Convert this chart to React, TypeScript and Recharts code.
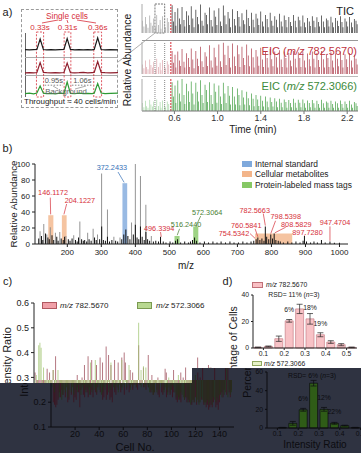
import React from "react";
import {
  ComposedChart,
  LineChart,
  Line,
  Bar,
  XAxis,
  YAxis,
  ReferenceArea,
  ReferenceLine,
  ReferenceDot,
  ErrorBar,
  LabelList,
  Cell,
} from "recharts";

const FONT = '"Liberation Sans", Arial, Helvetica, sans-serif';
const RED = "#d62f3a";
const DARK_BG = "#2f3341";

// a) inset, three single cells (time in s)
const insetTime = [0, 0.2, 0.4, 0.55, 0.7, 0.85, 1.0, 1.2, 1.4, 1.6, 1.8, 1.95, 2.1, 2.3, 2.5, 2.7, 2.9, 3.1, 3.2, 3.36, 3.52, 3.7, 3.95, 4.3];
const insetTic = [0.03, 0.01, 0.04, 0.05, 1.0, 0.05, 0.02, 0.03, 0.01, 0.04, 0.05, 1.05, 0.06, 0.02, 0.03, 0.01, 0.04, 0.02, 0.06, 1.1, 0.05, 0.02, 0.03, 0.01];
const insetEic782 = [0.02, 0.04, 0.01, 0.05, 0.95, 0.06, 0.03, 0.01, 0.04, 0.02, 0.05, 0.9, 0.04, 0.02, 0.03, 0.05, 0.02, 0.04, 0.05, 1.05, 0.06, 0.03, 0.01, 0.04];
const insetEic572 = [0.05, 0.1, 0.02, 0.12, 1.0, 0.1, 0.04, 0.08, 0.02, 0.1, 0.06, 1.5, 0.08, 0.03, 0.1, 0.04, 0.09, 0.05, 0.1, 1.3, 0.12, 0.05, 0.08, 0.1];
const cellWindowStart = [0.53, 1.81, 3.18];
const cellWindowEnd = [0.86, 2.12, 3.54];

// a) whole run (time in min), one spike per cell
const spikeTimes = [
  0.305, 0.318, 0.334, 0.341, 0.356, 0.372, 0.383, 0.398, 0.409, 0.426,
  0.437, 0.452, 0.468, 0.476, 0.491, 0.507, 0.519, 0.534, 0.548, 0.579,
  0.591, 0.606, 0.614, 0.632, 0.648, 0.655, 0.671, 0.689, 0.697, 0.714,
  0.73, 0.738, 0.756, 0.771, 0.782, 0.799, 0.815, 0.823, 0.842, 0.856,
  0.866, 0.884, 0.899, 0.907, 0.925, 0.94, 0.951, 0.968, 0.983, 0.994,
  1.012, 1.026, 1.035, 1.053, 1.068, 1.079, 1.097, 1.112, 1.121, 1.139,
  1.155, 1.166, 1.183, 1.198, 1.207, 1.226, 1.241, 1.252, 1.27, 1.284,
  1.295, 1.313, 1.329, 1.338, 1.356, 1.372, 1.382, 1.4, 1.415, 1.426,
  1.443, 1.459, 1.468, 1.487, 1.502, 1.513, 1.53, 1.546, 1.555, 1.574,
  1.589, 1.598, 1.617, 1.633, 1.642, 1.66, 1.676, 1.686, 1.703, 1.719,
  1.728, 1.747, 1.762, 1.772, 1.79, 1.806, 1.815, 1.834, 1.849, 1.858,
  1.877, 1.892, 1.902, 1.92, 1.936, 1.945, 1.963, 1.979, 1.989, 2.007,
  2.022, 2.031, 2.05, 2.066, 2.075, 2.093, 2.109, 2.118, 2.137, 2.152,
  2.161, 2.18, 2.196, 2.205, 2.223, 2.239, 2.248, 2.266, 2.282, 2.292,
];
const ticSpikes = [
  0.42, 0.22, 0.55, 0.3, 0.18, 0.6, 0.35, 0.25, 0.5, 0.2,
  0.62, 0.28, 0.45, 0.15, 0.58, 0.32, 0.2, 0.52, 0.38, 0.96,
  0.4, 0.72, 0.25, 0.85, 0.5, 0.3, 0.9, 0.45, 0.22, 0.75,
  0.6, 0.28, 0.92, 0.5, 0.2, 0.8, 0.55, 0.3, 0.98, 0.42,
  0.25, 0.7, 0.62, 0.3, 0.88, 0.45, 0.22, 0.78, 0.56, 0.28,
  0.85, 0.4, 0.24, 0.95, 0.6, 0.3, 0.72, 0.5, 0.2, 0.82,
  0.48, 0.26, 0.76, 0.55, 0.22, 0.68, 0.44, 0.3, 0.8, 0.52,
  0.24, 0.7, 0.46, 0.2, 0.66, 0.5, 0.28, 0.74, 0.4, 0.22,
  0.62, 0.48, 0.2, 0.7, 0.42, 0.25, 0.58, 0.46, 0.2, 0.66,
  0.4, 0.22, 0.6, 0.45, 0.2, 0.55, 0.38, 0.24, 0.62, 0.42,
  0.2, 0.56, 0.44, 0.22, 0.6, 0.36, 0.2, 0.52, 0.4, 0.24,
  0.58, 0.42, 0.2, 0.54, 0.38, 0.22, 0.6, 0.4, 0.2, 0.5,
  0.44, 0.22, 0.56, 0.36, 0.2, 0.52, 0.42, 0.24, 0.58, 0.38,
  0.2, 0.5, 0.4, 0.22, 0.55, 0.36, 0.2, 0.48, 0.42, 0.3,
];
const eic782Spikes = [
  0.3, 0.18, 0.42, 0.22, 0.15, 0.45, 0.28, 0.2, 0.38, 0.16,
  0.48, 0.22, 0.35, 0.12, 0.44, 0.25, 0.18, 0.4, 0.3, 0.72,
  0.35, 0.6, 0.2, 0.7, 0.42, 0.25, 0.78, 0.38, 0.2, 0.65,
  0.5, 0.22, 0.8, 0.45, 0.18, 0.72, 0.48, 0.25, 0.85, 0.4,
  0.22, 0.68, 0.55, 0.25, 0.9, 0.42, 0.2, 0.82, 0.52, 0.26,
  0.92, 0.4, 0.22, 0.98, 0.6, 0.28, 0.88, 0.5, 0.2, 0.95,
  0.55, 0.25, 0.9, 0.62, 0.22, 0.85, 0.5, 0.28, 0.92, 0.58,
  0.24, 0.8, 0.52, 0.2, 0.75, 0.55, 0.26, 0.82, 0.45, 0.22,
  0.72, 0.5, 0.2, 0.78, 0.46, 0.24, 0.7, 0.52, 0.2, 0.74,
  0.45, 0.22, 0.7, 0.5, 0.2, 0.66, 0.42, 0.24, 0.72, 0.48,
  0.2, 0.68, 0.5, 0.22, 0.7, 0.42, 0.2, 0.64, 0.46, 0.24,
  0.7, 0.48, 0.2, 0.66, 0.44, 0.22, 0.72, 0.46, 0.2, 0.62,
  0.5, 0.22, 0.68, 0.42, 0.2, 0.64, 0.48, 0.24, 0.7, 0.44,
  0.2, 0.62, 0.46, 0.22, 0.66, 0.42, 0.2, 0.6, 0.48, 0.3,
];
const eic572Spikes = [
  0.25, 0.12, 0.32, 0.15, 0.1, 0.35, 0.2, 0.14, 0.3, 0.12,
  0.36, 0.16, 0.28, 0.1, 0.33, 0.18, 0.12, 0.3, 0.22, 0.9,
  0.45, 0.8, 0.25, 0.95, 0.55, 0.3, 1.0, 0.5, 0.22, 0.85,
  0.62, 0.28, 0.92, 0.55, 0.2, 0.88, 0.6, 0.3, 0.96, 0.5,
  0.25, 0.82, 0.66, 0.28, 0.9, 0.5, 0.22, 0.86, 0.6, 0.26,
  0.8, 0.45, 0.22, 0.88, 0.55, 0.25, 0.78, 0.48, 0.2, 0.75,
  0.45, 0.2, 0.7, 0.5, 0.18, 0.65, 0.42, 0.2, 0.6, 0.4,
  0.18, 0.55, 0.38, 0.15, 0.5, 0.36, 0.16, 0.48, 0.32, 0.14,
  0.45, 0.3, 0.12, 0.42, 0.28, 0.14, 0.4, 0.3, 0.12, 0.38,
  0.26, 0.12, 0.36, 0.28, 0.1, 0.34, 0.25, 0.12, 0.38, 0.26,
  0.1, 0.35, 0.26, 0.12, 0.36, 0.24, 0.1, 0.33, 0.25, 0.12,
  0.34, 0.24, 0.1, 0.32, 0.22, 0.1, 0.35, 0.24, 0.1, 0.3,
  0.26, 0.1, 0.32, 0.22, 0.1, 0.3, 0.24, 0.1, 0.33, 0.22,
  0.1, 0.3, 0.22, 0.1, 0.32, 0.2, 0.1, 0.28, 0.24, 0.16,
];
const zoomWindow = [0.42, 0.51];
const markerTime = 0.567;
const timeTicks = [0.6, 1.0, 1.4, 1.8, 2.2];

// b) spectrum [m/z, relative abundance]
const grayPeaks = [
  [120, 16], [131, 25], [140, 12], [150, 21], [165, 14], [178, 15], [196, 10], [219, 11],
  [237, 28], [260, 14], [276, 19], [289, 12], [301, 88], [318, 43], [337, 9], [355, 8],
  [389, 27], [400, 100], [415, 85], [431, 49], [447, 10],
];
const blackPeaks = [
  [116, 7], [124, 10], [128, 5], [136, 13], [143, 8], [147, 6], [155, 11], [160, 5], [169, 9],
  [173, 4], [182, 7], [188, 5], [192, 9], [203, 6], [208, 4], [214, 7], [224, 5], [229, 3],
  [233, 8], [242, 6], [247, 4], [251, 5], [257, 3], [264, 6], [270, 4], [280, 8], [285, 5],
  [295, 6], [301, 22], [306, 5], [312, 4], [318, 9], [324, 3], [331, 5], [342, 4], [348, 3],
  [360, 6], [366, 12], [372, 18], [378, 10], [384, 6], [394, 12], [400, 24], [405, 8],
  [410, 6], [415, 22], [420, 9], [426, 5], [431, 15], [436, 6], [442, 4], [453, 3], [460, 4],
  [468, 3], [474, 9], [482, 3], [490, 2], [502, 3], [510, 2], [518, 4], [524, 6], [533, 2],
  [545, 3], [556, 2], [562, 3], [568, 5], [574, 8], [580, 4], [590, 2], [603, 3], [615, 2],
  [628, 3], [640, 2], [652, 3], [665, 2], [678, 3], [690, 2], [703, 2], [716, 3], [728, 2],
  [740, 3], [748, 4], [755, 6], [760, 8], [766, 5], [772, 7], [778, 4], [782, 22], [786, 9],
  [792, 6], [798, 12], [803, 7], [808, 13], [813, 5], [820, 4], [826, 3], [835, 2], [848, 3],
  [860, 2], [872, 3], [884, 2], [893, 4], [897, 10], [903, 3], [915, 2], [925, 3], [935, 2],
  [947, 5], [958, 2], [972, 3], [985, 1.5], [1000, 1.5],
];
// [from, to, height]
const internalStdBands = [[362, 376, 76]];
const metaboliteBands = [[144, 159, 36], [184, 198, 36], [752, 861, 13]];
const massTagBands = [[515, 530, 10], [570, 585, 22]];
const mzTicks = [200, 300, 400, 500, 600, 700, 800, 900, 1000];
const peakNotes = [
  { text: "372.2433", kind: "std", at: [331, 96], line: [[349, 90], [367, 77]] },
  { text: "146.1172", kind: "met", at: [158, 64], line: [[150, 58], [151, 37]] },
  { text: "204.1227", kind: "met", at: [237, 54], line: [[198, 50], [190, 37]] },
  { text: "496.3394", kind: "met", at: [470, 20], line: [[474, 15], [476, 9]] },
  { text: "516.2440", kind: "tag", at: [549, 24], line: [[530, 19], [523, 11]] },
  { text: "572.3064", kind: "tag", at: [611, 40], line: [[592, 35], [579, 23]] },
  { text: "782.5663", kind: "met", at: [751, 42.5], line: [[776, 38], [782, 23]] },
  { text: "798.5398", kind: "met", at: [842, 34], line: [[812, 29], [798, 13]] },
  { text: "760.5841", kind: "met", at: [726, 23], line: [[752, 19], [760, 9]] },
  { text: "808.5829", kind: "met", at: [873, 24.5], line: [[842, 21], [810, 14]] },
  { text: "754.5342", kind: "met", at: [690, 13.5], line: [[737, 13], [752, 7]] },
  { text: "897.7280", kind: "met", at: [906, 15], line: [[899, 12], [897, 10.5]] },
  { text: "947.4704", kind: "met", at: [987, 27.5], line: [[972, 22], [972, 4]] },
];

// c) per-cell intensity ratios, cells 1..150
const ratio782 = [
  0.32, 0.2, 0.19, 0.18, 0.19, 0.21, 0.24, 0.22, 0.25, 0.23,
  0.335, 0.22, 0.32, 0.2, 0.21, 0.33, 0.23, 0.385, 0.2, 0.22,
  0.21, 0.26, 0.24, 0.18, 0.25, 0.27, 0.23, 0.22, 0.25, 0.24,
  0.22, 0.26, 0.23, 0.25, 0.22, 0.31, 0.24, 0.23, 0.26, 0.3,
  0.24, 0.35, 0.21, 0.22, 0.385, 0.21, 0.23, 0.37, 0.21, 0.22,
  0.2, 0.35, 0.24, 0.23, 0.38, 0.25, 0.36, 0.24, 0.26, 0.425,
  0.23, 0.39, 0.25, 0.35, 0.24, 0.26, 0.37, 0.25, 0.27, 0.36,
  0.26, 0.25, 0.38, 0.27, 0.4, 0.36, 0.26, 0.27, 0.25, 0.33,
  0.26, 0.32, 0.24, 0.25, 0.23, 0.24, 0.43, 0.25, 0.23, 0.22,
  0.34, 0.24, 0.23, 0.25, 0.39, 0.22, 0.24, 0.31, 0.23, 0.25,
  0.22, 0.24, 0.3, 0.21, 0.2, 0.22, 0.21, 0.2, 0.335, 0.32,
  0.21, 0.22, 0.2, 0.21, 0.2, 0.33, 0.19, 0.21, 0.2, 0.22,
  0.19, 0.32, 0.2, 0.3, 0.21, 0.34, 0.19, 0.2, 0.18, 0.19,
  0.17, 0.18, 0.19, 0.18, 0.2, 0.38, 0.18, 0.19, 0.17, 0.2,
  0.23, 0.24, 0.22, 0.25, 0.35, 0.23, 0.34, 0.24, 0.22, 0.25,
];
const ratio572 = [
  0.26, 0.31, 0.24, 0.43, 0.44, 0.42, 0.22, 0.34, 0.21, 0.23,
  0.25, 0.24, 0.26, 0.22, 0.25, 0.33, 0.24, 0.26, 0.23, 0.33,
  0.25, 0.24, 0.27, 0.25, 0.23, 0.26, 0.25, 0.27, 0.24, 0.26,
  0.25, 0.23, 0.26, 0.24, 0.27, 0.25, 0.26, 0.24, 0.27, 0.25,
  0.26, 0.23, 0.24, 0.26, 0.25, 0.27, 0.36, 0.24, 0.26, 0.25,
  0.37, 0.26, 0.25, 0.27, 0.26, 0.24, 0.27, 0.26, 0.25, 0.27,
  0.26, 0.28, 0.26, 0.36, 0.27, 0.25, 0.27, 0.26, 0.28, 0.27,
  0.26, 0.28, 0.37, 0.27, 0.26, 0.28, 0.27, 0.26, 0.35, 0.27,
  0.26, 0.24, 0.25, 0.24, 0.23, 0.24, 0.52, 0.24, 0.33, 0.25,
  0.345, 0.26, 0.34, 0.24, 0.26, 0.25, 0.23, 0.26, 0.24, 0.25,
  0.27, 0.26, 0.24, 0.22, 0.23, 0.21, 0.22, 0.24, 0.23, 0.22,
  0.21, 0.3, 0.22, 0.2, 0.21, 0.19, 0.2, 0.21, 0.2, 0.31,
  0.2, 0.21, 0.19, 0.2, 0.22, 0.21, 0.2, 0.19, 0.2, 0.21,
  0.19, 0.2, 0.21, 0.19, 0.22, 0.21, 0.2, 0.22, 0.21, 0.23,
  0.24, 0.22, 0.25, 0.23, 0.24, 0.34, 0.22, 0.25, 0.23, 0.24,
];
const ratioBase = 0.29;
const cellTicks = [20, 40, 60, 80, 100, 120, 140];
const ratioTicksUpper = [0.3, 0.4, 0.5, 0.6];
const ratioTicksLower = [0.1, 0.2];

// d) histograms of the ratio
const histBins = [0.075, 0.125, 0.175, 0.225, 0.275, 0.325, 0.375, 0.425, 0.475, 0.525];
const pct782 = [0.5, 1.2, 7, 20.5, 29.5, 22, 10, 4.5, 2.5, 0.5];
const err782 = [0.2, 0.3, 2, 1, 3.5, 4, 1.5, 1, 0.8, 0.2];
const rsd782 = ["", "", "", "6%", "", "18%", "19%", "", "", ""];
const pct572 = [0, 0.5, 5, 19.5, 48, 20, 5, 2.5, 0.5, 0];
const err572 = [0, 0.2, 2, 1.5, 3, 2, 1, 0.5, 0.2, 0];
const rsd572 = ["", "", "", "6%", "", "12%", "22%", "", "", ""];
const binTicks = [0.1, 0.2, 0.3, 0.4, 0.5];

const insetTable = insetTime.map((t, i) => ({ t, tic: insetTic[i], e782: insetEic782[i], e572: insetEic572[i] }));
const runTable = spikeTimes.map((t, i) => ({ t, tic: ticSpikes[i], e782: eic782Spikes[i], e572: eic572Spikes[i] }));
const msTable = (() => {
  const m = new Map<number, { mz: number; gray?: number; black?: number }>();
  grayPeaks.forEach(([mz, v]) => m.set(mz, { ...(m.get(mz) ?? { mz }), gray: v }));
  blackPeaks.forEach(([mz, v]) => m.set(mz, { ...(m.get(mz) ?? { mz }), black: v }));
  return [...m.values()].sort((a, b) => a.mz - b.mz);
})();
const cellTable = ratio782.map((r, i) => ({ cell: i + 1, r782: r, r572: ratio572[i] }));
const hist782 = histBins.map((bin, i) => ({ bin, pct: pct782[i], err: err782[i], rsd: rsd782[i] }));
const hist572 = histBins.map((bin, i) => ({ bin, pct: pct572[i], err: err572[i], rsd: rsd572[i] }));

const span = (v: number) => (v >= ratioBase ? [ratioBase, v] : [v, ratioBase]);

function Txt({ x, y, size, color = "#222", rot = 0, align = "c", children }: any) {
  const tx = align === "c" ? "-50%" : align === "r" ? "-100%" : "0%";
  return (
    <div
      style={{
        position: "absolute",
        left: x,
        top: y,
        fontSize: size,
        lineHeight: 1,
        color,
        whiteSpace: "nowrap",
        transform: `translate(${tx}, -50%) rotate(${rot}deg)`,
      }}
    >
      {children}
    </div>
  );
}

function Box({ x, y, w, h, fill, stroke }: any) {
  return (
    <div
      style={{
        position: "absolute",
        left: x,
        top: y,
        width: w,
        height: h,
        background: fill,
        border: `1px solid ${stroke}`,
        boxSizing: "border-box",
      }}
    />
  );
}

function Trace({ top, height, mt, mb, dataKey, color, faint, showAxis, zoomBox }: any) {
  return (
    <div style={{ position: "absolute", left: 120, top }}>
      <ComposedChart width={241} height={height} data={runTable} margin={{ top: mt, right: 3, bottom: mb, left: 8 }}>
        <XAxis
          dataKey="t"
          type="number"
          domain={[0.3, 2.3]}
          ticks={timeTicks}
          tickFormatter={(v: number) => v.toFixed(1)}
          hide={!showAxis}
          height={14}
          tick={{ fontSize: 9, fill: "#333" }}
          tickSize={3}
          tickMargin={1}
          axisLine={{ stroke: "#777" }}
          tickLine={{ stroke: "#777" }}
        />
        <YAxis
          domain={[0, 1]}
          ticks={[0, 0.2, 0.4, 0.6, 0.8, 1]}
          width={14}
          tick={false}
          tickSize={2}
          axisLine={{ stroke: "#aaa" }}
          tickLine={{ stroke: "#aaa" }}
        />
        {zoomBox ? (
          <ReferenceArea x1={zoomWindow[0]} x2={zoomWindow[1]} fill="none" stroke="#777" strokeDasharray="2 1" />
        ) : null}
        {zoomBox
          ? null
          : zoomWindow.map((x) => <ReferenceLine key={x} x={x} stroke="#888" strokeDasharray="1 1" />)}
        <ReferenceLine x={markerTime} stroke={RED} strokeDasharray="2 1" />
        <Bar dataKey={dataKey} barSize={1} isAnimationActive={false}>
          {runTable.map((d, i) => (
            <Cell key={i} fill={d.t < markerTime ? faint : color} />
          ))}
        </Bar>
      </ComposedChart>
    </div>
  );
}

function PanelA() {
  return (
    <>
      <Txt x={7.5} y={12} size={11}>a)</Txt>
      <div style={{ position: "absolute", left: 21, top: 9, width: 97, height: 99, border: "1px dashed #9a9a9a", boxSizing: "border-box" }} />
      <div style={{ position: "absolute", left: 25, top: 33, width: 1, height: 64, background: "#666" }} />
      <div style={{ position: "absolute", left: 25, top: 57, width: 93, height: 1, background: "#aaa" }} />
      <div style={{ position: "absolute", left: 25, top: 75, width: 93, height: 1, background: "#aaa" }} />
      <div style={{ position: "absolute", left: 25, top: 20 }}>
        <LineChart width={93} height={80} data={insetTable} margin={{ top: 12, right: 0, bottom: 3, left: 0 }}>
          <XAxis dataKey="t" type="number" domain={[0, 4.3]} hide />
          <YAxis yAxisId="k" domain={[-4.27, 1.64]} hide />
          <YAxis yAxisId="r" domain={[-2.18, 3.73]} hide />
          <YAxis yAxisId="g" domain={[-0.375, 7.75]} hide />
          {cellWindowStart.map((s, i) => (
            <ReferenceArea
              key={"w" + i}
              yAxisId="k"
              x1={s}
              x2={cellWindowEnd[i]}
              fill="none"
              stroke={RED}
              strokeDasharray="2 1.5"
              strokeWidth={0.8}
              label={{ value: `${(cellWindowEnd[i] - s).toFixed(2)}s`, position: "top", fill: RED, fontSize: 8, offset: 2 }}
            />
          ))}
          {cellWindowStart.slice(1).map((s, i) => (
            <ReferenceLine
              key={"g" + i}
              yAxisId="g"
              segment={[{ x: cellWindowEnd[i] + 0.05, y: 1.1 }, { x: s - 0.05, y: 1.1 }]}
              stroke="#888"
              strokeDasharray="1.5 1.5"
              label={{ value: `${(s - cellWindowEnd[i]).toFixed(2)}s`, position: "top", fill: "#555", fontSize: 7.5, offset: 2 }}
            />
          ))}
          <Line yAxisId="k" dataKey="tic" stroke="#1a1a1a" strokeWidth={1.2} dot={false} isAnimationActive={false} />
          <Line yAxisId="r" dataKey="e782" stroke="#8e1f2d" strokeWidth={1.2} dot={false} isAnimationActive={false} />
          <Line yAxisId="g" dataKey="e572" stroke="#2f9a35" strokeWidth={1.2} dot={false} isAnimationActive={false} />
        </LineChart>
      </div>
      <Txt x={67} y={16} size={8.3} color={RED}>Single cells</Txt>
      <Txt x={66} y={92} size={7.8} color="#666">Background</Txt>
      <Txt x={70} y={101.5} size={8}>Throughput ≈ 40 cells/min</Txt>
      <svg width={361} height={140} style={{ position: "absolute", left: 0, top: 0 }}>
        <line x1={118} y1={62} x2={155} y2={33} stroke="#999" strokeWidth={0.8} />
        <line x1={58} y1={20} x2={42} y2={23} stroke={RED} strokeWidth={0.8} />
        <line x1={67} y1={20} x2={68} y2={23} stroke={RED} strokeWidth={0.8} />
        <line x1={77} y1={20} x2={96} y2={23} stroke={RED} strokeWidth={0.8} />
        <line x1={58} y1={89} x2={53} y2={86} stroke="#888" strokeWidth={0.7} />
        <line x1={75} y1={89} x2={86} y2={86} stroke="#888" strokeWidth={0.7} />
      </svg>

      <Txt x={128} y={60} size={10.4} rot={-90}>Relative Abundance</Txt>
      <Trace top={0} height={34} mt={4} mb={1} dataKey="tic" color="#222" faint="#a0a0a0" zoomBox />
      <div style={{ position: "absolute", left: 142, top: 40, width: 216, height: 1, background: "#999" }} />
      <Trace top={40} height={35} mt={2} mb={1} dataKey="e782" color="#a83443" faint="#dba3aa" />
      <div style={{ position: "absolute", left: 142, top: 76, width: 216, height: 1, background: "#bbb" }} />
      <Trace top={76} height={51} mt={3} mb={2} dataKey="e572" color="#3a9a3a" faint="#a6d6a6" showAxis />
      <Txt x={354} y={11} size={11} align="r">TIC</Txt>
      <Txt x={357} y={51} size={11} align="r" color="#c0343f">
        EIC (<i>m/z</i> 782.5670)
      </Txt>
      <Txt x={357} y={86} size={11} align="r" color="#3c8a3a">
        EIC (<i>m/z</i> 572.3066)
      </Txt>
      <Txt x={253} y={129.5} size={10}>Time (min)</Txt>
    </>
  );
}

const noteColor: Record<string, string> = { std: "#3570b8", met: RED, tag: "#4a7f36" };

function PanelB() {
  const bands = [
    ...internalStdBands.map((b) => ({ b, fill: "#7fa9dc" })),
    ...metaboliteBands.map((b) => ({ b, fill: "#f3b58a" })),
    ...massTagBands.map((b) => ({ b, fill: "#86c865" })),
  ];
  return (
    <>
      <Txt x={7.5} y={147.5} size={11}>b)</Txt>
      <Txt x={14} y={204} size={9.8} rot={-90}>Relative Abundance</Txt>
      <div style={{ position: "absolute", left: 0, top: 150 }}>
        <ComposedChart width={361} height={125} data={msTable} margin={{ top: 14, right: 13, bottom: 7, left: 8 }}>
          <XAxis
            xAxisId="a"
            dataKey="mz"
            type="number"
            domain={[105, 1025]}
            ticks={mzTicks}
            height={24}
            tick={{ fontSize: 8, fill: "#222" }}
            tickSize={3}
            axisLine={{ stroke: "#222" }}
            tickLine={{ stroke: "#222" }}
          />
          <XAxis xAxisId="b" dataKey="mz" type="number" domain={[105, 1025]} orientation="top" height={0} hide />
          <YAxis
            domain={[0, 100]}
            ticks={[0, 20, 40, 60, 80, 100]}
            width={27}
            tick={{ fontSize: 8, fill: "#222" }}
            tickSize={3}
            axisLine={{ stroke: "#222" }}
            tickLine={{ stroke: "#222" }}
          />
          {bands.map(({ b, fill }, i) => (
            <ReferenceArea key={"band" + i} xAxisId="a" x1={b[0]} x2={b[1]} y1={0} y2={b[2]} fill={fill} fillOpacity={0.8} stroke="none" />
          ))}
          <Bar xAxisId="a" dataKey="gray" fill="#8a8a8a" barSize={1.3} isAnimationActive={false} />
          <Bar xAxisId="b" dataKey="black" fill="#111" barSize={1} isAnimationActive={false} />
          {peakNotes.map((n, i) => (
            <ReferenceLine
              key={"nl" + i}
              xAxisId="a"
              segment={[{ x: n.line[0][0], y: n.line[0][1] }, { x: n.line[1][0], y: n.line[1][1] }]}
              stroke={noteColor[n.kind]}
              strokeWidth={0.7}
            />
          ))}
          {peakNotes.map((n, i) => (
            <ReferenceDot
              key={"nd" + i}
              xAxisId="a"
              x={n.at[0]}
              y={n.at[1]}
              r={1}
              fill="none"
              stroke="none"
              label={{ value: n.text, position: "center", fill: noteColor[n.kind], fontSize: 7.3 }}
            />
          ))}
        </ComposedChart>
      </div>
      <Txt x={186} y={266} size={10}>m/z</Txt>
      <Box x={242} y={160.5} w={10} h={6} fill="#7fa9dc" stroke="#7fa9dc" />
      <Box x={242} y={171} w={10} h={6} fill="#f3b58a" stroke="#f3b58a" />
      <Box x={242} y={181.5} w={10} h={6} fill="#86c865" stroke="#86c865" />
      <Txt x={255} y={163.5} size={8.4} align="l">Internal standard</Txt>
      <Txt x={255} y={174} size={8.4} align="l">Cellular metabolites</Txt>
      <Txt x={255} y={184.5} size={8.4} align="l">Protein-labeled mass tags</Txt>
    </>
  );
}

// c) drawn twice: the light upper copy and the shifted dark lower copy
function PanelC({ dark, shift }: { dark: boolean; shift: number }) {
  const ink = dark ? "#0c0c10" : "#222";
  const fill782 = dark ? "#3c1420" : "#a8606c";
  const fill572 = dark ? "#23331a" : "#a2c673";
  return (
    <div style={{ position: "absolute", left: shift, top: 0, width: 361, height: 453 }}>
      <div style={{ position: "absolute", left: 0, top: 285 }}>
        <ComposedChart width={240} height={168} data={cellTable} margin={{ top: 18, right: 23, bottom: 2, left: 8 }}>
          <XAxis
            xAxisId="a"
            dataKey="cell"
            type="number"
            domain={[0, 152]}
            ticks={cellTicks}
            height={24}
            tick={dark ? { fontSize: 9, fill: ink } : false}
            tickSize={3}
            tickMargin={1}
            axisLine={{ stroke: ink }}
            tickLine={{ stroke: ink }}
          />
          <XAxis xAxisId="b" dataKey="cell" type="number" domain={[0, 152]} orientation="top" height={0} hide />
          <YAxis
            domain={[0.1, 0.6]}
            ticks={dark ? ratioTicksLower : ratioTicksUpper}
            tickFormatter={(v: number) => v.toFixed(1)}
            width={26}
            tick={{ fontSize: 9, fill: ink }}
            tickSize={3}
            axisLine={{ stroke: ink }}
            tickLine={{ stroke: ink }}
          />
          <Bar xAxisId="a" dataKey={(d: any) => span(d.r782)} fill={fill782} fillOpacity={0.85} barSize={1} isAnimationActive={false} />
          <Bar xAxisId="b" dataKey={(d: any) => span(d.r572)} fill={fill572} fillOpacity={0.75} barSize={1} isAnimationActive={false} />
        </ComposedChart>
      </div>
      <Txt x={7} y={362} size={11} rot={-90} color={ink}>Intensity Ratio</Txt>
      {dark ? <Txt x={118} y={447} size={11} color={ink}>Cell No.</Txt> : null}
    </div>
  );
}

function Hist({ data, top, height, mt, mb, yMax, yTicks, fill, stroke, ink }: any) {
  return (
    <div style={{ position: "absolute", left: 230, top }}>
      <ComposedChart width={131} height={height} data={data} margin={{ top: mt, right: 4, bottom: mb, left: 8 }}>
        <XAxis
          dataKey="bin"
          type="number"
          domain={[0.05, 0.55]}
          ticks={binTicks}
          height={12}
          tick={{ fontSize: 6.8, fill: ink }}
          tickSize={2}
          tickMargin={1}
          axisLine={{ stroke: ink }}
          tickLine={{ stroke: ink }}
        />
        <YAxis
          domain={[0, yMax]}
          ticks={yTicks}
          width={15}
          tick={{ fontSize: 6.8, fill: ink }}
          tickSize={2}
          axisLine={{ stroke: ink }}
          tickLine={{ stroke: ink }}
        />
        <Bar dataKey="pct" barSize={8} fill={fill} stroke={stroke} strokeWidth={0.7} isAnimationActive={false}>
          <ErrorBar dataKey="err" width={3} stroke={ink} strokeWidth={0.7} direction="y" />
          <LabelList dataKey="rsd" position="top" offset={9} fontSize={6.8} fill={ink} />
        </Bar>
      </ComposedChart>
    </div>
  );
}

function PanelD({ dark, shift }: { dark: boolean; shift: number }) {
  const ink = dark ? "#0c0c10" : "#222";
  return (
    <div style={{ position: "absolute", left: shift, top: 0, width: 361, height: 453 }}>
      {dark ? null : (
        <Hist data={hist782} top={285} height={80} mt={10} mb={5} yMax={40} yTicks={[0, 20, 40]} fill="#f8c2c6" stroke="#c98088" ink={ink} />
      )}
      {dark ? (
        <Hist data={hist572} top={365} height={88} mt={7} mb={13} yMax={60} yTicks={[0, 20, 40, 60]} fill="#2f5c17" stroke="#0c0c10" ink={ink} />
      ) : null}
      {dark ? null : (
        <Txt x={294} y={295} size={6.8} color={ink}>
          RSD= 11% (<i>n</i>=3)
        </Txt>
      )}
      {dark ? (
        <Txt x={298} y={376} size={6.8} color={ink}>
          RSD= 6% (<i>n</i>=3)
        </Txt>
      ) : null}
      <Txt x={233} y={352} size={10.5} rot={-90} color={ink}>Percentage of Cells</Txt>
      {dark ? <Txt x={301} y={444.5} size={10} color={ink}>Intensity Ratio</Txt> : null}
    </div>
  );
}

function LegendsCD() {
  return (
    <>
      <Txt x={7.5} y={281} size={11}>c)</Txt>
      <Txt x={227.5} y={281} size={11}>d)</Txt>
      <Box x={42} y={302} w={15} h={7} fill="#f0a0a8" stroke="#b05860" />
      <Txt x={60} y={305.5} size={8} align="l">
        <i>m/z</i> 782.5670
      </Txt>
      <Box x={137} y={302} w={15} h={7} fill="#b8d890" stroke="#7a9a50" />
      <Txt x={156} y={305.5} size={8} align="l">
        <i>m/z</i> 572.3066
      </Txt>
      <Box x={252} y={282} w={11} h={6} fill="#f9c0c4" stroke="#c07078" />
      <Txt x={266} y={285} size={6.8} align="l">
        <i>m/z</i> 782.5670
      </Txt>
      <Box x={252} y={361} w={10} h={5} fill="#e6f2c8" stroke="#90a860" />
      <Txt x={264} y={363.5} size={6.8} align="l">
        <i>m/z</i> 572.3066
      </Txt>
    </>
  );
}

export default function App() {
  return (
    <div
      style={{
        position: "absolute",
        left: 0,
        top: 0,
        width: 361,
        height: 453,
        background: "#fff",
        overflow: "hidden",
        fontFamily: FONT,
        color: "#222",
      }}
    >
      <PanelA />
      <PanelB />
      <PanelC dark={false} shift={0} />
      <PanelD dark={false} shift={0} />
      <LegendsCD />
      <div
        style={{
          position: "absolute",
          left: 0,
          top: 0,
          width: 361,
          height: 453,
          background: DARK_BG,
          clipPath: "polygon(0px 383px, 192px 383px, 192px 368px, 361px 368px, 361px 453px, 0px 453px)",
        }}
      >
        <PanelC dark shift={17} />
        <PanelD dark shift={14} />
      </div>
    </div>
  );
}
